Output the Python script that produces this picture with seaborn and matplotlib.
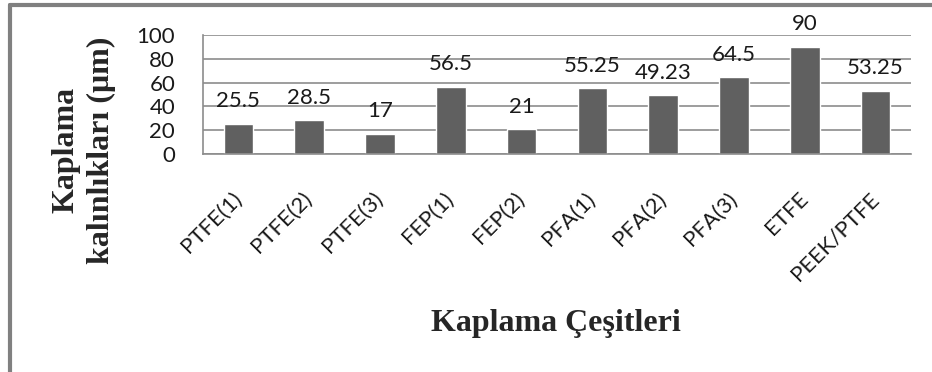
import matplotlib
matplotlib.use("Agg")
import matplotlib.pyplot as plt
import seaborn as sns
import pandas as pd
from matplotlib.lines import Line2D

# chart data
coatings = ['PTFE(1)', 'PTFE(2)', 'PTFE(3)', 'FEP(1)', 'FEP(2)',
            'PFA(1)', 'PFA(2)', 'PFA(3)', 'ETFE', 'PEEK/PTFE']
thickness = [25.5, 28.5, 17, 56.5, 21, 55.25, 49.23, 64.5, 90, 53.25]
value_labels = ['25.5', '28.5', '17', '56.5', '21', '55.25', '49.23', '64.5', '90', '53.25']
y_ticks = [0, 20, 40, 60, 80, 100]

df = pd.DataFrame({'coating': coatings, 'thickness': thickness})

sns.set_style("white")
plt.rcParams['font.family'] = ['Lato', 'DejaVu Sans']

fig = plt.figure(figsize=(9.32, 3.72), dpi=100)
ax = fig.add_axes([203 / 932, 1 - 154 / 372, 708 / 932, 119 / 372])

sns.barplot(data=df, x='coating', y='thickness', color='#606060',
            saturation=1, width=0.42, ax=ax)

# data labels sitting above each bar
for i, (v, lab) in enumerate(zip(thickness, value_labels)):
    ax.annotate(lab, (i, v), xytext=(0, 9), textcoords='offset points',
                ha='center', va='bottom', fontsize=16, color='#1a1a1a')

ax.set_ylim(0, 100)
ax.set_yticks(y_ticks)
ax.yaxis.grid(True, color='#8c8c8c', linewidth=1.2)
ax.set_axisbelow(True)
ax.tick_params(axis='y', length=0, pad=20, labelsize=16, labelcolor='#1a1a1a')
ax.tick_params(axis='x', length=0, pad=30, labelsize=16, labelcolor='#1a1a1a')
for lab in ax.get_xticklabels():
    lab.set_rotation(45)
    lab.set_ha('right')
    lab.set_va('center')
    lab.set_rotation_mode('anchor')

for s in ['top', 'right']:
    ax.spines[s].set_visible(False)
for s in ['left', 'bottom']:
    ax.spines[s].set_color('#8c8c8c')
    ax.spines[s].set_linewidth(1.2)

ax.set_xlabel('')
ax.set_ylabel('')

serif = ['Liberation Serif', 'DejaVu Serif']
fig.text(84 / 932, 1 - 150 / 372, 'Kaplama\nkalınlıkları (μm)', rotation=90,
         ha='center', va='center', multialignment='center', linespacing=1.3,
         fontsize=23, fontweight='bold', family=serif)
fig.text(556 / 932, 1 - 324 / 372, 'Kaplama Çeşitleri', ha='center', va='center',
         fontsize=23, fontweight='bold', family=serif)

# outer chart frame (left and top edges visible)
fig.add_artist(Line2D([10 / 932, 10 / 932], [0, 1 - 5 / 372], transform=fig.transFigure,
                      color='#808080', linewidth=3))
fig.add_artist(Line2D([10 / 932, 1], [1 - 5 / 372, 1 - 5 / 372], transform=fig.transFigure,
                      color='#808080', linewidth=3))

fig.savefig('out.png', dpi=100)
